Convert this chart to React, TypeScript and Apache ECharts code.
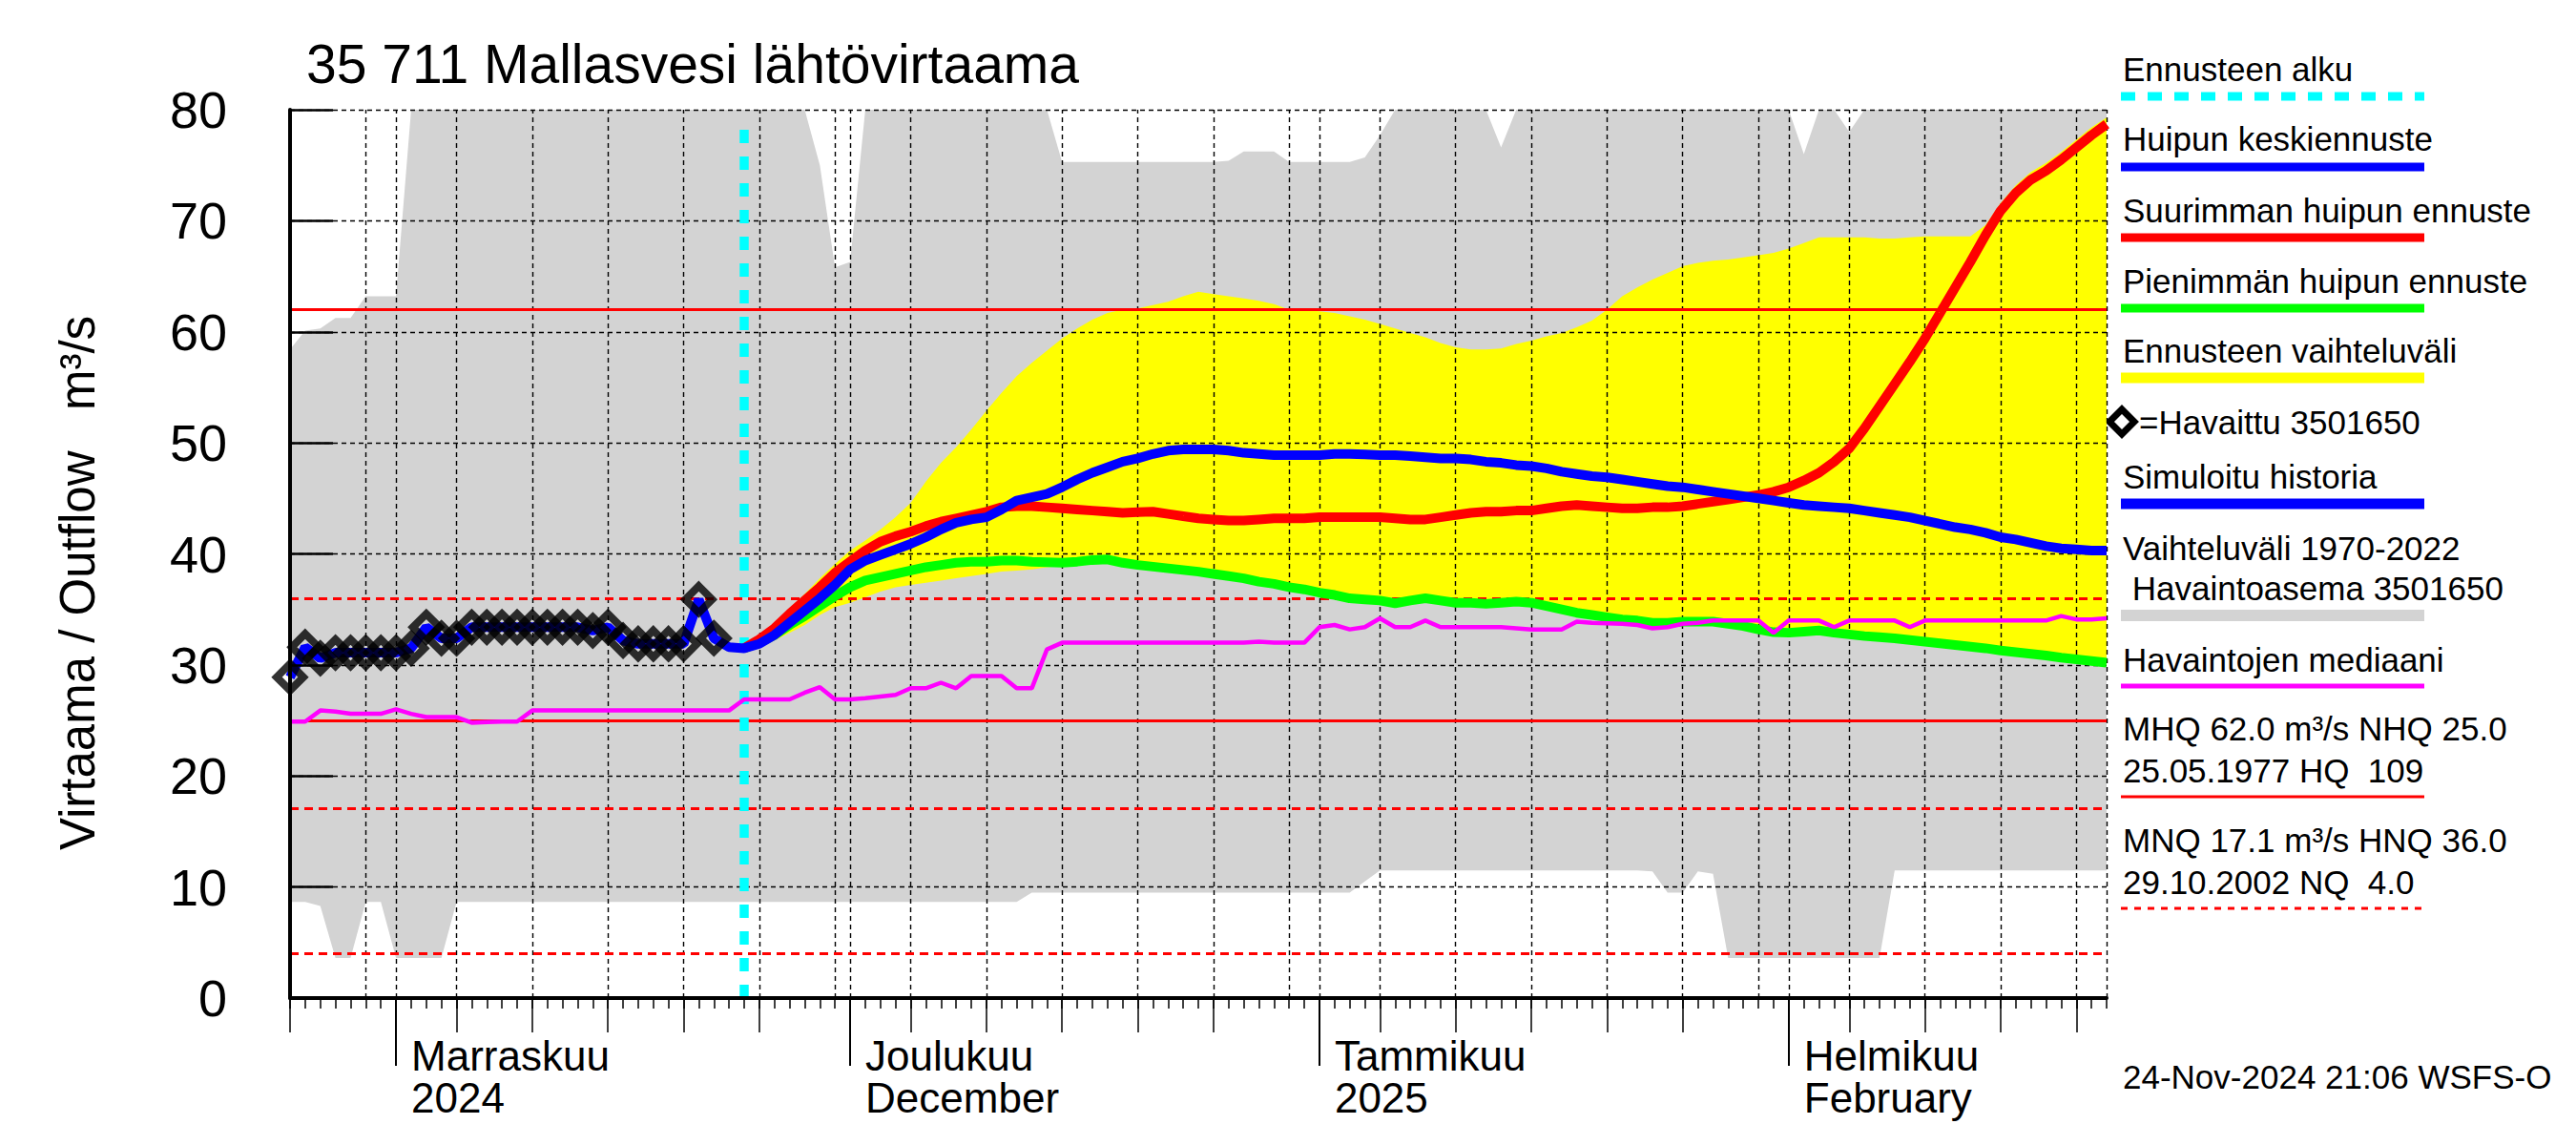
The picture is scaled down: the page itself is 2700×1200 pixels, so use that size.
import React, { useEffect, useRef } from "react";
import * as echarts from "echarts";

// ---------- axis / calendar ----------
const START_UTC = Date.UTC(2024, 9, 25); // 25 Oct 2024
const DAY_COUNT = 121; // through 22 Feb 2025
const FORECAST_START_INDEX = 30; // 24 Nov 2024

const CATEGORIES: string[] = [];
const DAY_OF_MONTH: number[] = [];
for (let i = 0; i < DAY_COUNT; i++) {
  const d = new Date(START_UTC + i * 86400000);
  CATEGORIES.push(d.toISOString().slice(0, 10));
  DAY_OF_MONTH.push(d.getUTCDate());
}

const MONTH_LABELS: Record<string, string> = {
  "2024-11-01": "Marraskuu\n2024",
  "2024-12-01": "Joulukuu\nDecember",
  "2025-01-01": "Tammikuu\n2025",
  "2025-02-01": "Helmikuu\nFebruary",
};
const MEDIUM_TICK_DAYS = [5, 10, 15, 20, 25];
const GRID_DAYS = [1, 5, 10, 15, 20, 25, 30];

const Y_MIN = 0;
const Y_MAX = 80;
const Y_STEP = 10;
const Y_GRID_VALUES = [10, 20, 30, 40, 50, 60, 70, 80];

// ---------- reference levels ----------
const MHQ = 62.0;
const NHQ = 25.0;
const HNQ = 36.0;
const MNQ = 17.1;
const NQ = 4.0;
const FORECAST_LINE_TOP = 79;

// ---------- data (one value per day from 25 Oct 2024) ----------
const historicUpper = [
  58.4, 60.1, 60.3, 61.25, 61.25, 63.2, 63.2, 63.2,
  80, 80, 80, 80, 80, 80, 80, 80, 80, 80, 80, 80, 80, 80, 80, 80, 80, 80, 80, 80, 80, 80, 80, 80, 80, 80, 80,
  75, 65.8, 66.3,
  80, 80, 80, 80, 80, 80, 80, 80, 80, 80, 80, 80, 80,
  75.3, 75.3, 75.3, 75.3, 75.3, 75.3, 75.3, 75.3, 75.3, 75.3, 75.3, 75.4,
  76.25, 76.25, 76.25,
  75.3, 75.3, 75.3, 75.3, 75.3,
  75.7, 77.7,
  80, 80, 80, 80, 80, 80, 80,
  76.6,
  80, 80, 80, 80, 80, 80, 80, 80, 80, 80, 80, 80, 80, 80, 80, 80, 80, 80, 80,
  76,
  80, 80,
  78,
  80, 80, 80, 80, 80, 80, 80, 80, 80, 80, 80, 80, 80, 80, 80, 80, 80,
];

const historicLower = [
  8.65, 8.65, 8.3, 3.6, 3.6, 8.65, 8.65, 3.6, 3.6, 3.6, 3.6, 8.65,
  8.65, 8.65, 8.65, 8.65, 8.65, 8.65, 8.65, 8.65, 8.65, 8.65, 8.65, 8.65, 8.65, 8.65, 8.65, 8.65, 8.65,
  8.65, 8.65, 8.65, 8.65, 8.65, 8.65, 8.65, 8.65, 8.65, 8.65, 8.65, 8.65, 8.65, 8.65, 8.65, 8.65, 8.65,
  8.65, 8.65, 8.65,
  9.5, 9.5, 9.5, 9.5, 9.5, 9.5, 9.5, 9.5, 9.5, 9.5, 9.5, 9.5, 9.5, 9.5, 9.5, 9.5, 9.5, 9.5, 9.5, 9.5, 9.5, 9.5,
  10.5,
  11.5, 11.5, 11.5, 11.5, 11.5, 11.5, 11.5, 11.5, 11.5, 11.5, 11.5, 11.5, 11.5, 11.5, 11.5, 11.5, 11.5, 11.5,
  11.4, 9.5, 9.5, 11.4, 11.2,
  3.6, 3.6, 3.6, 3.6, 3.6, 3.6, 3.6, 3.6, 3.6, 3.6, 3.6,
  11.5, 11.5, 11.5, 11.5, 11.5, 11.5, 11.5, 11.5, 11.5, 11.5, 11.5, 11.5, 11.5, 11.5, 11.5,
];

const observed = [
  28.9, 31.6, 30.6, 31.1, 31.1, 31.1, 31.1, 31.1, 31.5, 33.4, 32.4, 32.4, 33.4, 33.4, 33.4,
  33.4, 33.4, 33.4, 33.4, 33.4, 33.1, 33.4, 32.2, 31.9, 31.9, 31.9, 31.9, 35.9, 32.4,
];

// simulated history (to 24 Nov) followed by the mean peak forecast
const meanForecast = [
  28.9, 31.6, 30.6, 31.1, 31.1, 31.1, 31.1, 31.1, 31.5, 33.4, 32.4, 32.4, 33.4, 33.4, 33.4,
  33.4, 33.4, 33.4, 33.4, 33.4, 33.1, 33.4, 32.2, 31.9, 31.9, 31.9, 31.9, 35.9, 32.4, 31.6,
  31.5, 31.9, 32.7, 33.8, 34.9, 36.0, 37.2, 38.6, 39.4, 39.9, 40.4, 40.9, 41.5, 42.2, 42.8,
  43.1, 43.3, 44.0, 44.8, 45.1, 45.4, 46.0, 46.7, 47.3, 47.8, 48.3, 48.6, 49.0, 49.3, 49.4,
  49.4, 49.4, 49.3, 49.1, 49.0, 48.9, 48.9, 48.9, 48.9, 49.0, 49.0, 48.95, 48.9, 48.9, 48.8,
  48.7, 48.6, 48.6, 48.5, 48.3, 48.2, 48.0, 47.9, 47.7, 47.4, 47.2, 47.0, 46.9, 46.7, 46.5,
  46.3, 46.1, 46.0, 45.8, 45.6, 45.4, 45.2, 45.0, 44.8, 44.6, 44.4, 44.3, 44.2, 44.1, 43.9,
  43.7, 43.5, 43.3, 43.0, 42.7, 42.4, 42.2, 41.9, 41.5, 41.3, 41.0, 40.7, 40.5, 40.4, 40.3,
  40.3,
];

// forecast series from 24 Nov (index 30) onwards
const maxForecast = [
  31.5, 32.3, 33.3, 34.6, 35.8, 37.0, 38.3, 39.3, 40.3, 41.1, 41.6, 42.0, 42.5, 42.9, 43.2,
  43.5, 43.8, 44.2, 44.3, 44.3, 44.2, 44.1, 44.0, 43.9, 43.8, 43.7, 43.75, 43.8, 43.6, 43.4,
  43.2, 43.1, 43.0, 43.0, 43.1, 43.2, 43.2, 43.2, 43.3, 43.3, 43.3, 43.3, 43.3, 43.2, 43.1,
  43.1, 43.3, 43.5, 43.7, 43.8, 43.8, 43.9, 43.9, 44.1, 44.3, 44.4, 44.3, 44.2, 44.1, 44.1,
  44.2, 44.2, 44.3, 44.5, 44.7, 44.9, 45.1, 45.3, 45.6, 46.0, 46.6, 47.3, 48.3, 49.5, 51.3,
  53.3, 55.3, 57.3, 59.4, 61.7, 64.0, 66.3, 68.7, 70.9, 72.5, 73.7, 74.5, 75.5, 76.6, 77.7,
  78.7,
];

const minForecast = [
  31.5, 32.0, 32.7, 33.6, 34.4, 35.3, 36.2, 37.0, 37.6, 37.9, 38.2, 38.5, 38.8, 39.0, 39.2,
  39.3, 39.3, 39.4, 39.4, 39.3, 39.25, 39.2, 39.3, 39.45, 39.5, 39.2, 39.0, 38.85, 38.7, 38.55,
  38.4, 38.2, 38.0, 37.8, 37.5, 37.3, 37.0, 36.8, 36.5, 36.3, 36.0, 35.9, 35.8, 35.55, 35.8,
  36.0, 35.8, 35.6, 35.6, 35.5, 35.6, 35.7, 35.6, 35.3, 35.0, 34.7, 34.5, 34.3, 34.1, 34.0,
  33.8, 33.8, 33.9, 33.9, 33.9, 33.7, 33.5, 33.2, 32.95, 32.9, 33.0, 33.1, 32.9, 32.75, 32.6,
  32.5, 32.4, 32.25, 32.1, 31.95, 31.8, 31.65, 31.5, 31.3, 31.15, 31.0, 30.85, 30.65, 30.5, 30.35,
  30.2,
];

const rangeUpper = [
  31.5, 32.6, 33.8, 35.1, 36.4, 37.8, 39.1, 40.3, 41.2, 42.2, 43.3, 44.6, 46.5, 48.2, 49.6,
  51.2, 52.9, 54.5, 56.0, 57.2, 58.3, 59.4, 60.3, 61.1, 61.7, 62.0, 62.1, 62.4, 62.7, 63.2,
  63.6, 63.4, 63.2, 63.0, 62.8, 62.5, 62.0, 61.95, 61.85, 61.7, 61.4, 61.1, 60.7, 60.3, 59.9,
  59.5, 59.0, 58.6, 58.4, 58.4, 58.5, 58.9, 59.2, 59.6, 59.9, 60.4, 61.0, 62.0, 63.2, 64.0,
  64.7, 65.3, 65.9, 66.2, 66.4, 66.5, 66.7, 66.9, 67.1, 67.5, 68.0, 68.5, 68.5, 68.5, 68.5,
  68.4, 68.4, 68.5, 68.6, 68.6, 68.6, 68.6, 69.6, 71.6, 73.2, 74.4, 75.2, 76.2, 77.3, 78.4,
  79.3,
];

const rangeLower = [
  31.5, 31.7, 32.2, 32.9, 33.6, 34.5, 35.2, 35.6, 36.1, 36.6, 37.0, 37.2, 37.4, 37.6, 37.8,
  38.0, 38.2, 38.4, 38.5, 38.6, 38.8, 38.9, 39.0, 39.15, 39.2, 38.9, 38.7, 38.55, 38.4, 38.25,
  38.1, 37.9, 37.7, 37.5, 37.2, 37.0, 36.7, 36.5, 36.2, 36.0, 35.7, 35.6, 35.5, 35.25, 35.5,
  35.7, 35.5, 35.3, 35.3, 35.2, 35.3, 35.4, 35.3, 35.0, 34.7, 34.4, 34.2, 34.0, 33.8, 33.7,
  33.5, 33.5, 33.6, 33.6, 33.6, 33.4, 33.2, 32.9, 32.65, 32.6, 32.7, 32.8, 32.6, 32.45, 32.3,
  32.2, 32.1, 31.95, 31.8, 31.65, 31.5, 31.35, 31.2, 31.0, 30.85, 30.7, 30.55, 30.35, 30.2, 30.05,
  29.9,
];

const observedMedian = [
  24.9, 24.9, 25.9, 25.8, 25.6, 25.6, 25.6, 26.0, 25.6, 25.3, 25.3, 25.3, 24.8, 24.85, 24.9,
  24.9, 25.9, 25.9, 25.9, 25.9, 25.9, 25.9, 25.9, 25.9, 25.9, 25.9, 25.9, 25.9, 25.9, 25.9,
  26.9, 26.9, 26.9, 26.9, 27.5, 28.0, 26.9, 26.9, 27.0, 27.15, 27.3, 27.9, 27.9, 28.4, 27.9,
  29.0, 29.0, 29.0, 27.9, 27.9, 31.4, 32.0, 32.0, 32.0, 32.0, 32.0, 32.0, 32.0, 32.0, 32.0,
  32.0, 32.0, 32.0, 32.0, 32.1, 32.0, 32.0, 32.0, 33.4, 33.6, 33.2, 33.4, 34.2, 33.4, 33.4,
  34.0, 33.4, 33.4, 33.4, 33.4, 33.4, 33.3, 33.2, 33.2, 33.2, 33.9, 33.8, 33.75, 33.7, 33.6,
  33.3, 33.4, 33.7, 33.8, 34.0, 34.0, 34.0, 34.0, 32.9, 34.0, 34.0, 34.0, 33.4, 34.0, 34.0,
  34.0, 34.0, 33.4, 34.0, 34.0, 34.0, 34.0, 34.0, 34.0, 34.0, 34.0, 34.0, 34.4, 34.1, 34.1,
  34.2,
];

// ---------- texts ----------
const TITLE = "35 711 Mallasvesi lähtövirtaama";
const Y_NAME = "Virtaama / Outflow   m³/s";
const TIMESTAMP = "24-Nov-2024 21:06 WSFS-O";

const LEGEND_TEXTS = [
  { text: "Ennusteen alku", y: 72 },
  { text: "Huipun keskiennuste", y: 145 },
  { text: "Suurimman huipun ennuste", y: 220 },
  { text: "Pienimmän huipun ennuste", y: 294 },
  { text: "Ennusteen vaihteluväli", y: 367 },
  { text: "=Havaittu 3501650", y: 442, x: 2242 },
  { text: "Simuloitu historia", y: 499 },
  { text: "Vaihteluväli 1970-2022", y: 574 },
  { text: " Havaintoasema 3501650", y: 616 },
  { text: "Havaintojen mediaani", y: 691 },
  { text: "MHQ 62.0 m³/s NHQ 25.0", y: 763 },
  { text: "25.05.1977 HQ  109", y: 807 },
  { text: "MNQ 17.1 m³/s HNQ 36.0", y: 880 },
  { text: "29.10.2002 NQ  4.0", y: 924 },
];

const CYAN = "#00ffff";
const BLUE = "#0000ff";
const RED = "#ff0000";
const GREEN = "#00ff00";
const YELLOW = "#ffff00";
const GREY = "#d3d3d3";
const MAGENTA = "#ff00ff";

const LEGEND_LINES = [
  { y: 101, color: CYAN, width: 9, dash: [15, 13] },
  { y: 175, color: BLUE, width: 9 },
  { y: 249, color: RED, width: 9 },
  { y: 323, color: GREEN, width: 9 },
  { y: 396, color: YELLOW, width: 11 },
  { y: 528, color: BLUE, width: 11 },
  { y: 645, color: GREY, width: 12 },
  { y: 719, color: MAGENTA, width: 5 },
  { y: 835, color: RED, width: 3 },
  { y: 952, color: RED, width: 3, dash: [7, 7] },
];

const FONT = '"Liberation Sans", Arial, Helvetica, sans-serif';

function padForecast(values: number[]): (number | null)[] {
  const out: (number | null)[] = [];
  for (let i = 0; i < DAY_COUNT; i++) {
    const j = i - FORECAST_START_INDEX;
    out.push(j >= 0 && j < values.length ? values[j] : null);
  }
  return out;
}

function buildOption() {
  const nullRow = CATEGORIES.map(() => null);
  const greyDiff = historicUpper.map((u, i) => +(u - historicLower[i]).toFixed(3));
  const yLowFull = padForecast(rangeLower);
  const yDiffFull = padForecast(rangeUpper.map((u, i) => +(u - rangeLower[i]).toFixed(3)));
  const obsFull = CATEGORIES.map((_, i) => (i < observed.length ? observed[i] : null));

  const gridX = CATEGORIES.filter(
    (_, i) => i > 0 && (GRID_DAYS.includes(DAY_OF_MONTH[i]) || i === DAY_COUNT - 1)
  );

  const baseX = {
    type: "category",
    data: CATEGORIES,
    boundaryGap: false,
    position: "bottom",
    gridIndex: 0,
    splitLine: { show: false },
    z: 20,
  };

  const graphics: any[] = [
    {
      type: "text",
      x: 321,
      y: 67,
      style: { text: TITLE, fontSize: 57, fontFamily: FONT, fill: "#000", align: "left", verticalAlign: "middle" },
    },
    {
      type: "text",
      x: 81,
      y: 611,
      rotation: Math.PI / 2,
      style: { text: Y_NAME, fontSize: 51, fontFamily: FONT, fill: "#000", align: "center", verticalAlign: "middle" },
    },
    {
      type: "text",
      x: 2225,
      y: 1128,
      style: { text: TIMESTAMP, fontSize: 35, fontFamily: FONT, fill: "#000", align: "left", verticalAlign: "middle" },
    },
    {
      type: "polygon",
      shape: { points: [[2224, 429], [2237, 442], [2224, 455], [2211, 442]] },
      style: { fill: "none", stroke: "#000", lineWidth: 7 },
    },
  ];
  LEGEND_TEXTS.forEach((t: any) =>
    graphics.push({
      type: "text",
      x: t.x ?? 2225,
      y: t.y,
      style: { text: t.text, fontSize: 35, fontFamily: FONT, fill: "#000", align: "left", verticalAlign: "middle" },
    })
  );
  LEGEND_LINES.forEach((l: any) =>
    graphics.push({
      type: "line",
      shape: { x1: 2223, y1: l.y, x2: 2541, y2: l.y },
      style: { stroke: l.color, lineWidth: l.width, lineDash: l.dash || null },
    })
  );

  const lineSeries = (data: any[], color: string, width: number, z: number) => ({
    type: "line",
    data,
    symbol: "none",
    showSymbol: false,
    z,
    silent: true,
    lineStyle: { color, width },
    emphasis: { disabled: true },
  });

  return {
    animation: false,
    backgroundColor: "#ffffff",
    graphic: graphics,
    grid: { left: 304, right: 492, top: 115, bottom: 154, containLabel: false, outerBoundsMode: "none" },
    xAxis: [
      {
        ...baseX,
        axisLine: { show: true, lineStyle: { color: "#000", width: 4 } },
        axisTick: { show: true, interval: 0, length: 11, lineStyle: { color: "#000", width: 1.5 } },
        axisLabel: { show: false },
      },
      {
        ...baseX,
        axisLine: { show: false },
        axisTick: {
          show: true,
          interval: (i: number) => MEDIUM_TICK_DAYS.includes(DAY_OF_MONTH[i]),
          length: 36,
          lineStyle: { color: "#000", width: 1.5 },
        },
        axisLabel: { show: false },
      },
      {
        ...baseX,
        axisLine: { show: false },
        axisTick: {
          show: true,
          interval: (i: number) => DAY_OF_MONTH[i] === 1,
          length: 71,
          lineStyle: { color: "#000", width: 2 },
        },
        axisLabel: {
          show: true,
          interval: (i: number) => DAY_OF_MONTH[i] === 1,
          formatter: (v: string) => MONTH_LABELS[v] ?? "",
          align: "left",
          padding: [0, 0, 0, 16],
          margin: 38,
          fontSize: 44,
          lineHeight: 44,
          fontFamily: FONT,
          color: "#000",
        },
      },
    ],
    yAxis: {
      type: "value",
      min: Y_MIN,
      max: Y_MAX,
      interval: Y_STEP,
      z: 20,
      axisLine: { show: true, lineStyle: { color: "#000", width: 4 } },
      axisTick: { show: true, inside: true, length: 45, lineStyle: { color: "#000", width: 2.5 } },
      axisLabel: { fontSize: 54, fontFamily: FONT, color: "#000", margin: 66 },
      splitLine: { show: false },
    },
    series: [
      {
        type: "line",
        data: historicLower,
        stack: "historic",
        symbol: "none",
        silent: true,
        z: 1,
        lineStyle: { width: 0, opacity: 0 },
      },
      {
        type: "line",
        data: greyDiff,
        stack: "historic",
        symbol: "none",
        silent: true,
        z: 1,
        lineStyle: { width: 0, opacity: 0 },
        areaStyle: { color: GREY, opacity: 1 },
      },
      {
        type: "line",
        data: yLowFull,
        stack: "range",
        symbol: "none",
        silent: true,
        z: 2,
        lineStyle: { width: 0, opacity: 0 },
      },
      {
        type: "line",
        data: yDiffFull,
        stack: "range",
        symbol: "none",
        silent: true,
        z: 2,
        lineStyle: { width: 0, opacity: 0 },
        areaStyle: { color: YELLOW, opacity: 1 },
      },
      {
        type: "line",
        data: nullRow,
        symbol: "none",
        silent: true,
        z: 3,
        markLine: {
          silent: true,
          symbol: ["none", "none"],
          label: { show: false },
          emphasis: { disabled: true },
          animation: false,
          lineStyle: { color: "#000", width: 1.4, type: [5, 4] },
          data: [
            ...Y_GRID_VALUES.map((v) => ({ yAxis: v })),
            ...gridX.map((c) => ({ xAxis: c })),
          ],
        },
      },
      {
        type: "line",
        data: nullRow,
        symbol: "none",
        silent: true,
        z: 4,
        markLine: {
          silent: true,
          symbol: ["none", "none"],
          label: { show: false },
          emphasis: { disabled: true },
          animation: false,
          data: [
            { yAxis: MHQ, lineStyle: { color: RED, width: 3, type: "solid" } },
            { yAxis: NHQ, lineStyle: { color: RED, width: 3, type: "solid" } },
            { yAxis: HNQ, lineStyle: { color: RED, width: 3, type: [9, 6] } },
            { yAxis: MNQ, lineStyle: { color: RED, width: 3, type: [9, 6] } },
            { yAxis: NQ, lineStyle: { color: RED, width: 3, type: [9, 6] } },
          ],
        },
      },
      lineSeries(padForecast(minForecast), GREEN, 10, 5),
      lineSeries(padForecast(maxForecast), RED, 10, 6),
      lineSeries(observedMedian, MAGENTA, 4.5, 7),
      lineSeries(meanForecast, BLUE, 10, 8),
      {
        type: "scatter",
        data: obsFull,
        symbol: "diamond",
        symbolSize: 28,
        silent: true,
        z: 9,
        itemStyle: { color: "rgba(0,0,0,0)", borderColor: "#000", borderWidth: 8 },
        emphasis: { disabled: true },
      },
      {
        type: "line",
        data: nullRow,
        symbol: "none",
        silent: true,
        z: 10,
        markLine: {
          silent: true,
          symbol: ["none", "none"],
          label: { show: false },
          emphasis: { disabled: true },
          animation: false,
          lineStyle: { color: CYAN, width: 9.5, type: [14, 14] },
          data: [
            [
              { coord: [CATEGORIES[FORECAST_START_INDEX], Y_MIN] },
              { coord: [CATEGORIES[FORECAST_START_INDEX], FORECAST_LINE_TOP] },
            ],
          ],
        },
      },
    ],
  };
}

export default function App() {
  const ref = useRef<HTMLDivElement>(null);
  useEffect(() => {
    if (!ref.current) return;
    const chart = echarts.init(ref.current, null, { renderer: "svg", width: 2700, height: 1200 });
    chart.setOption(buildOption() as any);
    return () => chart.dispose();
  }, []);
  return (
    <div
      ref={ref}
      style={{ position: "absolute", left: 0, top: 0, width: 2700, height: 1200, background: "#fff" }}
    />
  );
}
